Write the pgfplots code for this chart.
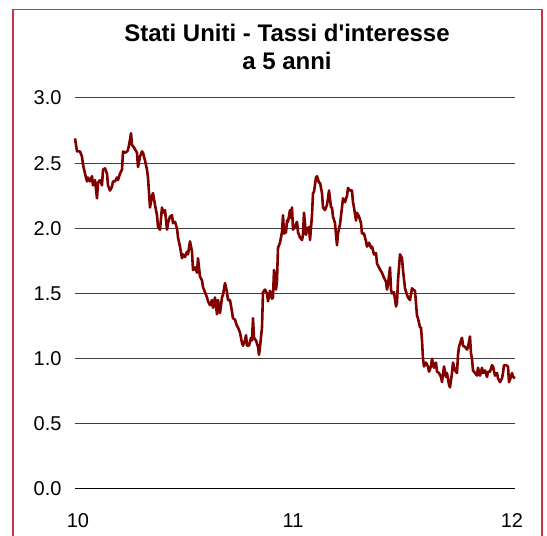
\documentclass[border=0pt]{standalone}
\usepackage{pgfplots}
\pgfplotsset{compat=1.18}
\usepackage{fontspec}
\setmainfont{Liberation Sans}
\newfontfamily\titlefont{Liberation Sans}
\definecolor{framered}{RGB}{204,51,68}
\definecolor{seriesred}{RGB}{128,0,0}
\definecolor{gridgray}{RGB}{64,64,64}

% 5-year US Treasury yield; x counts trading steps from the start of 2010 (220 = one year)
\pgfplotstableread{
t y
0 2.69
2 2.59
5 2.59
7 2.55
8 2.49
10 2.42
12 2.36
13 2.39
15 2.36
17 2.40
18 2.33
20 2.37
22 2.23
23 2.35
25 2.37
27 2.33
28 2.45
30 2.46
32 2.42
33 2.33
35 2.29
37 2.32
38 2.36
40 2.36
42 2.39
43 2.37
45 2.42
47 2.45
48 2.59
50 2.58
52 2.59
53 2.60
55 2.68
56 2.73
57 2.64
59 2.62
62 2.58
63 2.47
65 2.55
67 2.59
68 2.58
70 2.52
72 2.45
73 2.39
75 2.16
77 2.25
78 2.27
80 2.18
82 2.10
83 2.01
85 1.99
87 2.16
88 2.12
90 2.14
92 1.99
93 2.04
95 2.09
97 2.10
98 2.04
100 2.05
102 2.00
103 1.93
105 1.86
107 1.77
108 1.80
110 1.78
112 1.82
113 1.80
115 1.90
117 1.82
118 1.68
120 1.70
122 1.66
123 1.77
125 1.63
127 1.60
128 1.55
130 1.51
132 1.47
133 1.44
135 1.41
137 1.45
138 1.39
140 1.47
142 1.34
143 1.45
145 1.35
147 1.47
148 1.49
150 1.58
152 1.51
153 1.45
155 1.45
157 1.36
158 1.31
160 1.30
162 1.25
163 1.24
165 1.20
167 1.12
168 1.10
170 1.14
171 1.18
172 1.10
174 1.10
176 1.16
177 1.14
178 1.31
179 1.16
181 1.14
183 1.09
184 1.03
185 1.09
187 1.24
188 1.51
190 1.53
192 1.50
193 1.44
195 1.52
197 1.46
198 1.47
199 1.68
201 1.53
202 1.60
203 1.85
205 1.89
207 1.97
208 2.10
209 1.96
211 1.97
212 2.06
213 2.05
215 2.14
216 2.08
217 2.16
218 1.99
220 2.01
222 2.05
223 1.97
225 1.93
227 1.91
228 1.95
229 2.12
231 1.95
232 1.99
234 2.01
235 1.91
237 2.10
238 2.27
239 2.28
241 2.39
242 2.40
244 2.35
245 2.35
247 2.27
248 2.16
250 2.14
252 2.18
253 2.23
254 2.29
256 2.16
257 2.16
258 2.09
260 2.04
262 1.87
263 1.96
265 2.03
267 2.16
268 2.23
270 2.20
272 2.25
273 2.31
275 2.29
277 2.29
278 2.20
279 2.16
281 2.06
282 2.12
284 2.09
286 2.04
287 1.96
289 1.96
291 1.90
292 1.86
294 1.89
296 1.85
297 1.86
299 1.80
301 1.81
302 1.73
304 1.70
306 1.67
307 1.66
309 1.62
311 1.59
312 1.53
313 1.57
315 1.70
316 1.53
317 1.50
319 1.51
321 1.40
322 1.43
323 1.60
325 1.80
327 1.77
328 1.68
330 1.54
332 1.49
333 1.47
335 1.45
337 1.54
338 1.53
340 1.52
342 1.33
343 1.31
345 1.24
346 1.24
347 1.14
348 1.00
349 0.94
351 0.97
353 0.94
354 0.90
356 0.94
357 1.00
359 0.93
361 0.97
362 0.90
364 0.89
366 0.86
367 0.82
369 0.94
371 0.86
372 0.89
374 0.80
375 0.78
377 0.89
378 0.97
380 0.91
382 0.89
383 1.03
384 1.09
386 1.14
387 1.16
388 1.10
390 1.09
392 1.07
393 1.09
395 1.17
396 1.04
397 1.00
398 0.91
400 0.89
402 0.87
403 0.93
405 0.87
407 0.93
408 0.89
410 0.91
412 0.86
413 0.90
415 0.90
417 0.95
418 0.94
420 0.87
422 0.89
423 0.85
425 0.82
427 0.85
428 0.89
429 0.95
431 0.95
433 0.94
434 0.82
436 0.86
437 0.89
438 0.86
440 0.85
}\yieldtable

\begin{document}
\begin{tikzpicture}[x=1pt,y=1pt]
  \useasboundingbox (0,0) rectangle (547,536);
  % outer frame, open at the bottom edge of the page
  \draw[framered, line width=1.2pt] (13,-10) -- (13,526.5) -- (542,526.5) -- (542,-10);
  % title
  \node[font=\titlefont\fontsize{24}{28}\selectfont\bfseries, anchor=base] at (287,494) {Stati Uniti - Tassi d'interesse};
  \node[font=\titlefont\fontsize{24}{28}\selectfont\bfseries, anchor=base] at (287,466) {a 5 anni};
  \begin{axis}[
    at={(75pt,47pt)}, anchor=south west,
    scale only axis, width=440pt, height=391pt,
    xmin=0, xmax=440, ymin=0, ymax=3,
    axis line style={draw=none},
    xtick={3,218,437}, xticklabels={10,11,12},
    ytick={0,0.5,...,3},
    ymajorgrids,
    grid style={gridgray, line width=1pt},
    yticklabel style={/pgf/number format/fixed, /pgf/number format/fixed zerofill, /pgf/number format/precision=1},
    /pgf/number format/assume math mode=true,
    tick label style={font=\fontsize{20}{24}\selectfont},
    major tick length=0pt,
    tick style={draw=none},
    xticklabel style={yshift=-21pt},
    yticklabel style={xshift=-10pt},
    clip=false,
  ]
    \draw[black, line width=1pt] (axis cs:0,0) -- (axis cs:440,0);
    \addplot[seriesred, line width=2.6pt, line join=round, no marks] table[x=t,y=y] {\yieldtable};
  \end{axis}
\end{tikzpicture}
\end{document}
